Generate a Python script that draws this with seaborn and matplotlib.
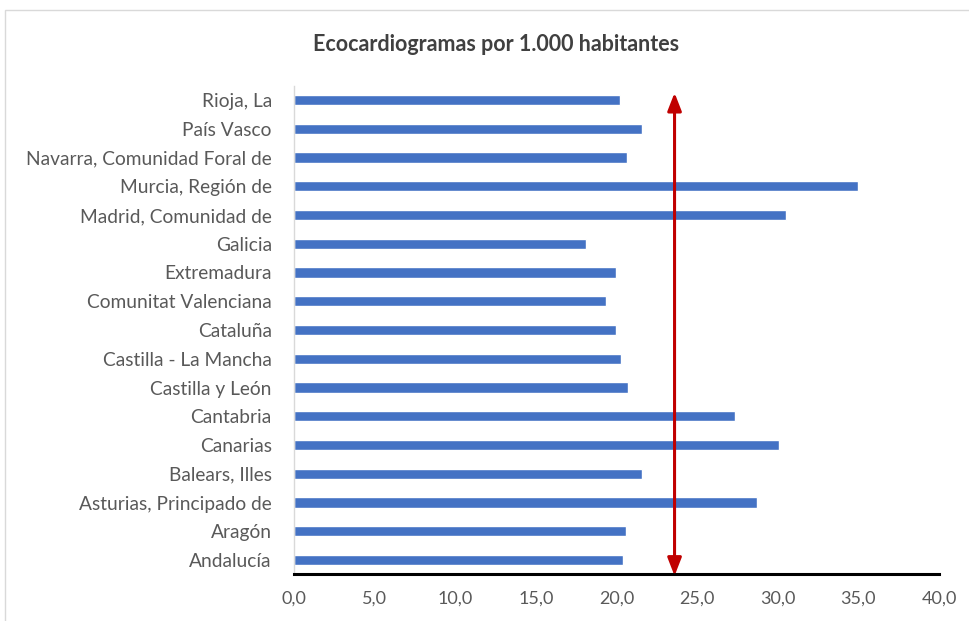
import matplotlib
matplotlib.use("Agg")
import matplotlib.pyplot as plt
import seaborn as sns
import pandas as pd
from matplotlib.patches import Rectangle

regions = ["Rioja, La", "País Vasco", "Navarra, Comunidad Foral de", "Murcia, Región de",
           "Madrid, Comunidad de", "Galicia", "Extremadura", "Comunitat Valenciana",
           "Cataluña", "Castilla - La Mancha", "Castilla y León", "Cantabria", "Canarias",
           "Balears, Illes", "Asturias, Principado de", "Aragón", "Andalucía"]
values = [20.2, 21.6, 20.65, 35.0, 30.5, 18.1, 20.0, 19.35, 20.0, 20.3, 20.7,
          27.35, 30.1, 21.6, 28.7, 20.6, 20.4]
mean_value = 23.6
xticks = [0, 5, 10, 15, 20, 25, 30, 35, 40]
xtick_labels = ["0,0", "5,0", "10,0", "15,0", "20,0", "25,0", "30,0", "35,0", "40,0"]
title = "Ecocardiogramas por 1.000 habitantes"

sns.set_theme(style="white")
plt.rcParams["font.family"] = ["Lato", "DejaVu Sans"]

df = pd.DataFrame({"region": regions, "value": values})

fig = plt.figure(figsize=(9.7, 6.21), dpi=100)
ax = fig.add_axes([294/970, 1-574.4/621, (939-294)/970, (574.4-85.6)/621])
sns.barplot(data=df, x="value", y="region", orient="h", color="#4472C4",
            saturation=1, width=0.36, ax=ax)

ax.set_xlim(0, 40)
ax.set_ylim(len(regions)-0.5, -0.5)
ax.set_xticks(xticks)
ax.set_xticklabels(xtick_labels)
ax.set_xlabel("")
ax.set_ylabel("")
ax.tick_params(axis="y", length=0, colors="#595959", labelsize=13.8, pad=16)
ax.tick_params(axis="x", length=0, colors="#595959", labelsize=13, pad=12)
for s in ["top", "right"]:
    ax.spines[s].set_visible(False)
ax.spines["left"].set_color("#D9D9D9")
ax.spines["left"].set_linewidth(1)
ax.spines["bottom"].set_color("black")
ax.spines["bottom"].set_linewidth(2.2)
ax.spines["bottom"].set_zorder(5)

ax.annotate("", xy=(mean_value, -0.25), xytext=(mean_value, 16.55),
            arrowprops=dict(arrowstyle="<|-|>,head_length=0.9,head_width=0.35",
                            color="#C00000", lw=2.2, shrinkA=0, shrinkB=0),
            annotation_clip=False, zorder=6)

fig.text(496/970, 1-44.5/621, title, ha="center", va="center", fontsize=15.5,
         fontweight="bold", color="#404040")

fig.patches.append(Rectangle((5/970, -0.01), 1.0, 1-10/621+0.01, transform=fig.transFigure,
                             fill=False, edgecolor="#D9D9D9", lw=1))

fig.savefig("out.png", dpi=100)
